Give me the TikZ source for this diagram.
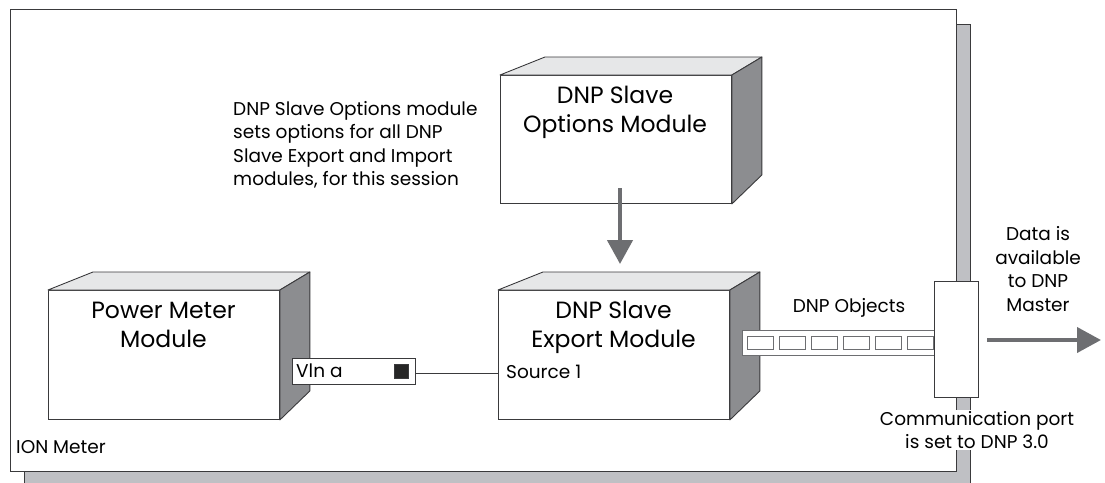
\documentclass[tikz,border=0pt]{standalone}
\usepackage{fontspec}
\setmainfont{Poppins}
\usetikzlibrary{arrows.meta,calc}
\definecolor{shadowgray}{HTML}{BFC0C4}
\definecolor{topgray}{HTML}{E6E7E8}
\definecolor{sidegray}{HTML}{8C8D90}
\definecolor{arrowgray}{HTML}{6D6E71}
\definecolor{edgegray}{HTML}{3A3A3C}
\newcommand{\bigtext}{\fontsize{23.5}{29}\selectfont}
\newcommand{\smalltext}{\fontsize{18.5}{23.4}\selectfont}
\tikzset{
  frontface/.style={draw=edgegray, fill=white, line width=0.9pt, minimum width=231pt, minimum height=129pt, inner sep=0pt, anchor=north west},
  topface/.style={draw=edgegray, fill=topgray, line width=0.9pt, line join=round},
  sideface/.style={draw=edgegray, fill=sidegray, line width=0.9pt, line join=round},
  bigtitle/.style={font=\bigtext, align=center, anchor=north, inner sep=0pt},
  smalllabel/.style={font=\smalltext, inner sep=0pt},
  objbox/.style={draw=arrowgray, fill=white, line width=0.9pt, minimum width=26pt, minimum height=13pt, inner sep=0pt, anchor=north west},
  fatarrow/.style={draw=arrowgray, line width=4.5pt, -{Triangle[length=24pt, width=25pt]}},
}
\newcommand{\cubefaces}[1]{%
  \draw[topface] (#1.north west) -- ++(45,-18) -- ($(#1.north east)+(30,-18)$) -- (#1.north east) -- cycle;
  \draw[sideface] (#1.north east) -- ++(30,-18) -- ($(#1.south east)+(30,-29)$) -- (#1.south east) -- cycle;
}
\begin{document}
\begin{tikzpicture}[x=1pt, y=-1pt]
\useasboundingbox (0,0) rectangle (1105,482);
% meter enclosure
\path[draw=edgegray, fill=shadowgray, line width=1pt] (24,24) rectangle (970,492);
\node[draw=edgegray, fill=white, line width=1.2pt, minimum width=946pt, minimum height=462pt, inner sep=0pt, anchor=north west] (frame) at (10,9) {};
\node[smalllabel, anchor=west] (ion) at (16,447) {ION Meter};

% cubes
\node[frontface] (pm) at (48,290) {};
\cubefaces{pm}
\node[bigtitle] (pmtext) at (163.5,302) {Power Meter\\Module};

\node[frontface, minimum height=128pt] (opt) at (500,75) {};
\cubefaces{opt}
\node[bigtitle] (opttext) at (615,86) {DNP Slave\\Options Module};

\node[frontface] (exp) at (498,290) {};
\cubefaces{exp}
\node[bigtitle] (exptext) at (613.5,301) {DNP Slave\\Export Module};
\node[smalllabel, anchor=west] (src) at (506,372) {Source 1};

% annotation
\node[smalllabel, align=left, anchor=north west] (note) at (233,101) {DNP Slave Options module\\sets options for all DNP\\Slave Export and Import\\modules, for this session};

% Vln a output
\node[draw=edgegray, fill=white, line width=1pt, minimum width=123pt, minimum height=26pt, inner sep=0pt, anchor=north west] (vln) at (292,358) {};
\node[smalllabel, anchor=west] (vlntext) at (296,371) {Vln a};
\node[fill=black!85, draw=edgegray, minimum width=14pt, minimum height=14pt, inner sep=0pt] (vlnsq) at (401.5,371) {};
\draw[edgegray, line width=1pt] (vln.east |- 0,373) -- (exp.west |- 0,373);

% DNP objects bar
\node[draw=arrowgray, fill=white, line width=1.2pt, minimum width=192pt, minimum height=25pt, inner sep=0pt, anchor=north west] (bar) at (742,330) {};
\foreach \i/\xx in {1/747,2/779,3/811,4/843,5/875,6/907}
  \node[objbox] (obj\i) at (\xx,336) {};
\node[smalllabel] (objtext) at (849,308) {DNP Objects};

% communication port
\node[draw=edgegray, fill=white, line width=1pt, minimum width=44pt, minimum height=116pt, inner sep=0pt, anchor=north west] (port) at (934,281) {};
\node[smalllabel, align=center, fill=white, inner sep=1pt] (porttext) at (977,430) {Communication port\\is set to DNP 3.0};

% arrows
\coordinate (optout) at (620,188);
\coordinate (expin) at (620,264);
\draw[fatarrow] (optout) -- (expin);
\coordinate (portout) at (987,340);
\coordinate (master) at (1101,340);
\draw[fatarrow, line width=4pt] (portout) -- (master);
\node[smalllabel, align=center] (datatext) at (1038,269) {Data is\\available\\to DNP\\Master};
\end{tikzpicture}
\end{document}
